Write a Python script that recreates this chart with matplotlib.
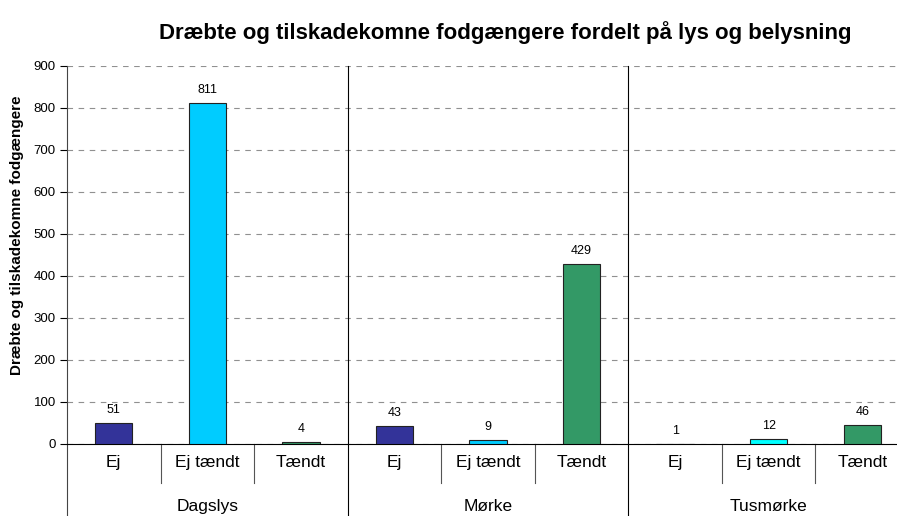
"""Dræbte og tilskadekomne fodgængere - lys og belysning."""

import matplotlib
matplotlib.use('Agg')
import matplotlib.pyplot as plt

plt.rcParams['font.family'] = ['Liberation Sans', 'DejaVu Sans']

# data
groups = ['Dagslys', 'Mørke', 'Tusmørke']
subcats = ['Ej', 'Ej tændt', 'Tændt']
values = [51, 811, 4, 43, 9, 429, 1, 12, 46]
colors = ['#333399', '#00CCFF', '#339966',
          '#333399', '#00CCFF', '#339966',
          '#333399', '#00FFFF', '#339966']
yticks = [0, 100, 200, 300, 400, 500, 600, 700, 800, 900]

fig = plt.figure(figsize=(8.97, 5.16), dpi=100)
ax = fig.add_axes([67 / 897, 72 / 516, 842 / 897, 378 / 516])

x = list(range(len(values)))
ax.bar(x, values, width=0.4, color=colors, edgecolor='#222222', linewidth=0.8, zorder=3)
for xi, v in zip(x, values):
  ax.annotate(str(v), (xi, v), xytext=(0, 5), textcoords='offset points',
              ha='center', va='bottom', fontsize=9)

ax.set_xlim(-0.5, len(values) - 0.5)
ax.set_ylim(0, 900)
ax.set_yticks(yticks)
ax.tick_params(axis='y', labelsize=9.5, length=5, direction='out', width=0.8, pad=3)
ax.set_xticks([])
ax.yaxis.grid(True, linestyle=(0, (5, 5)), color='#909090', linewidth=0.8, zorder=0)
for s in ['top', 'right']:
  ax.spines[s].set_visible(False)
ax.spines['left'].set_color('#444444')
ax.spines['bottom'].set_color('black')

trans = ax.get_xaxis_transform()
# group separators running through plot and label area
for g in range(1, len(groups)):
  xs = g * 3 - 0.5
  ax.plot([xs, xs], [1, -0.2], color='black', linewidth=0.8, transform=trans, clip_on=False, zorder=4)
# left line extends below
ax.plot([-0.5, -0.5], [0, -0.2], color='#444444', linewidth=0.8, transform=trans, clip_on=False)
# sub-category separators
for g in range(len(groups)):
  for k in (1, 2):
    xs = g * 3 + k - 0.5
    ax.plot([xs, xs], [0, -0.103], color='#555555', linewidth=0.8, transform=trans, clip_on=False)

for i, xi in enumerate(x):
  ax.text(xi, -0.05, subcats[i % 3], transform=trans, ha='center', va='center', fontsize=12.5)
for g, name in enumerate(groups):
  ax.text(g * 3 + 1, -0.165, name, transform=trans, ha='center', va='center', fontsize=12.5)

fig.text(17 / 897, 1 - 235 / 516, 'Dræbte og tilskadekomne fodgængere', rotation=90,
         ha='center', va='center', fontsize=11, fontweight='bold')
fig.text(505 / 897, 1 - 33 / 516, 'Dræbte og tilskadekomne fodgængere fordelt på lys og belysning',
         ha='center', va='center', fontsize=16, fontweight='bold')

fig.savefig('out.png', dpi=100)
